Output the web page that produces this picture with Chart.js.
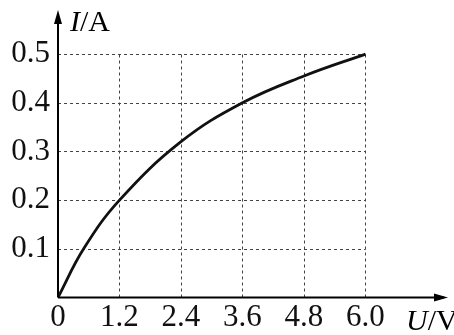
<!DOCTYPE html>
<html>
<head>
<meta charset="utf-8">
<script src="https://cdn.jsdelivr.net/npm/chart.js@4"></script>
<style>
  html, body { margin: 0; padding: 0; background: #fff; }
  #wrap { width: 454px; height: 335px; }
</style>
</head>
<body>
<div id="wrap"><canvas id="chart" width="454" height="335"></canvas></div>
<script>
// U (V) and I (A)
const voltage = [0, 0.5, 1.2, 2.4, 3.6, 4.8, 6.0];
const current = [0, 0.1, 0.2, 0.32, 0.4, 0.455, 0.5];
const xTicks = [0, 1.2, 2.4, 3.6, 4.8, 6.0];
const yTicks = [0.1, 0.2, 0.3, 0.4, 0.5];

const serif = '"Liberation Serif", "DejaVu Serif", serif';

// dashed grid only inside the 6.0 x 0.5 box, plus arrows and axis titles
const decor = {
    id: 'decor',
    beforeDatasetsDraw(chart) {
        const { ctx, scales: { x, y } } = chart;
        const x0 = x.getPixelForValue(0), xMax = x.getPixelForValue(6.0);
        const y0 = y.getPixelForValue(0), yMax = y.getPixelForValue(0.5);
        ctx.save();
        ctx.strokeStyle = '#444';
        ctx.lineWidth = 1;
        ctx.setLineDash([3, 3]);
        yTicks.forEach(v => {
            const py = Math.round(y.getPixelForValue(v)) + 0.5;
            ctx.beginPath(); ctx.moveTo(x0, py); ctx.lineTo(xMax, py); ctx.stroke();
        });
        xTicks.slice(1).forEach(v => {
            const px = Math.round(x.getPixelForValue(v)) + 0.5;
            ctx.beginPath(); ctx.moveTo(px, y0); ctx.lineTo(px, yMax); ctx.stroke();
        });
        ctx.restore();
    },
    afterDraw(chart) {
        const { ctx, chartArea, scales: { x, y } } = chart;
        const x0 = x.getPixelForValue(0), y0 = y.getPixelForValue(0);
        ctx.save();
        ctx.fillStyle = '#000';
        ctx.strokeStyle = '#000';
        ctx.lineWidth = 2;
        // axes
        ctx.beginPath(); ctx.moveTo(x0, y0); ctx.lineTo(chartArea.right - 4, y0); ctx.stroke();
        ctx.beginPath(); ctx.moveTo(x0, y0); ctx.lineTo(x0, chartArea.top + 4); ctx.stroke();
        // arrow heads
        ctx.beginPath();
        ctx.moveTo(chartArea.right, y0);
        ctx.lineTo(chartArea.right - 14, y0 - 4);
        ctx.lineTo(chartArea.right - 14, y0 + 4);
        ctx.closePath(); ctx.fill();
        ctx.beginPath();
        ctx.moveTo(x0, chartArea.top);
        ctx.lineTo(x0 - 4, chartArea.top + 14);
        ctx.lineTo(x0 + 4, chartArea.top + 14);
        ctx.closePath(); ctx.fill();
        // axis titles
        ctx.textBaseline = 'alphabetic';
        ctx.textAlign = 'left';
        let tx = 70;
        ctx.font = 'italic 30px ' + serif;
        ctx.fillText('I', tx, 31); tx += ctx.measureText('I').width;
        ctx.font = '30px ' + serif;
        ctx.fillText('/A', tx, 31);
        tx = 406;
        ctx.font = 'italic 30px ' + serif;
        ctx.fillText('U', tx, 330); tx += ctx.measureText('U').width;
        ctx.font = '30px ' + serif;
        ctx.fillText('/V', tx, 330);
        ctx.restore();
    }
};

new Chart(document.getElementById('chart'), {
    type: 'line',
    data: {
        datasets: [{
            data: voltage.map((u, i) => ({ x: u, y: current[i] })),
            borderColor: '#111',
            borderWidth: 2.8,
            pointRadius: 0,
            tension: 0.4,
            fill: false
        }]
    },
    options: {
        responsive: false,
        animation: false,
        layout: { padding: { top: 10, right: 6, left: 0, bottom: 0 } },
        plugins: { legend: { display: false }, tooltip: { enabled: false } },
        scales: {
            x: {
                type: 'linear',
                min: 0,
                max: 7.61,
                grid: { display: false, drawTicks: false },
                border: { display: false },
                afterBuildTicks: s => { s.ticks = xTicks.map(v => ({ value: v })); },
                afterFit: s => { s.height = 37.5; s.paddingLeft = 0; s.paddingRight = 0; },
                ticks: {
                    color: '#111',
                    padding: 2,
                    maxRotation: 0,
                    font: { family: serif, size: 31 },
                    callback: v => v === 0 ? '0' : v.toFixed(1)
                }
            },
            y: {
                type: 'linear',
                min: 0,
                max: 0.5905,
                grid: { display: false, drawTicks: false },
                border: { display: false },
                afterBuildTicks: s => { s.ticks = yTicks.map(v => ({ value: v })); },
                afterFit: s => { s.width = 58; s.paddingTop = 0; s.paddingBottom = 0; },
                ticks: {
                    color: '#111',
                    padding: 8,
                    font: { family: serif, size: 31 },
                    callback: v => v.toFixed(1)
                }
            }
        }
    },
    plugins: [decor]
});
</script>
</body>
</html>
